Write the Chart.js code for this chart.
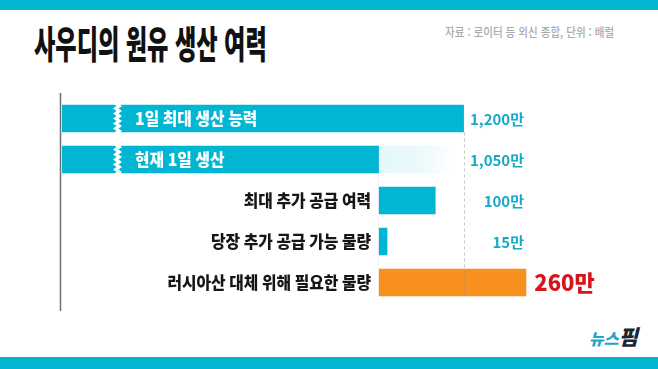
<!DOCTYPE html>
<html lang="ko">
<head>
<meta charset="utf-8">
<script src="https://cdn.jsdelivr.net/npm/chart.js@4"></script>
<style>
  html,body{margin:0;padding:0;background:#fff;}
  #wrap{position:relative;width:658px;height:369px;overflow:hidden;background:#fff;}
  #c{position:absolute;left:0;top:0;}
  .stripe{position:absolute;left:0;width:658px;background:#00b6d3;}
  .t{position:absolute;white-space:nowrap;font-family:"Noto Sans CJK KR","Noto Sans",sans-serif;transform-origin:left top;}
</style>
</head>
<body>
<div id="wrap">
  <div class="stripe" style="top:0;height:10px;"></div>
  <div class="stripe" style="top:357px;height:12px;"></div>
  <div class="t" id="title" style="left:34px;top:19px;font-size:38px;font-weight:900;color:#111;transform:scaleX(0.61);line-height:1.2;">사우디의 원유 생산 여력</div>
  <div class="t" id="src" style="left:445px;top:24px;font-size:12px;font-weight:500;color:#aaaaaa;transform:scaleX(0.88);line-height:1.4;">자료 : 로이터 등 외신 종합, 단위 : 배럴</div>
  <div class="t" id="logo" style="left:589px;top:324px;font-weight:900;font-style:italic;line-height:1.2;"><span style="color:#1aa6c8;font-size:16px;">뉴스</span><span style="color:#1a2535;font-size:21px;">핌</span></div>
  <canvas id="c" width="658" height="369"></canvas>
</div>
<script>
// ---- data ----
const categories = ['1일 최대 생산 능력', '현재 1일 생산', '최대 추가 공급 여력', '당장 추가 공급 가능 물량', '러시아산 대체 위해 필요한 물량'];
const values = [1200, 1050, 100, 15, 260];          // 단위: 만 배럴
const unit = '만';
const brokenBars = [true, true, false, false, false]; // bars drawn with a broken axis
const breakBase = 1050;                              // broken bars are shown relative to this value
const highlightIndex = 4;

// ---- colours ----
const CYAN = '#00b6d3';
const ORANGE = '#f8901f';

const axisMin = -559, axisMax = 390;

const mainData = values.map((v, i) => brokenBars[i] ? [axisMin, v - breakBase] : [0, v]);
const gapData = values.map((v, i) => i === 1 ? [0, values[0] - values[1]] : null);
const fmt = v => v.toLocaleString('en-US') + unit;

function drawScaledText(ctx, text, x, y, sx, align, font, color) {
  ctx.save();
  ctx.font = font;
  ctx.fillStyle = color;
  ctx.textAlign = align;
  ctx.textBaseline = 'middle';
  ctx.translate(x, y);
  ctx.scale(sx, 1);
  ctx.fillText(text, 0, 0);
  ctx.restore();
}

const deco = {
  id: 'deco',
  beforeDatasetsDraw(chart) {
    const { ctx, scales: { x, y } } = chart;
    ctx.save();
    ctx.strokeStyle = '#6e6e6e';
    ctx.lineWidth = 1.5;
    ctx.beginPath();
    ctx.moveTo(x.left - 1.5, 93);
    ctx.lineTo(x.left - 1.5, 311);
    ctx.stroke();
    const x0 = Math.round(x.getPixelForValue(0)) - 0.5;
    ctx.strokeStyle = 'rgba(200,200,200,0.5)';
    ctx.lineWidth = 1;
    ctx.setLineDash([2, 2]);
    ctx.beginPath();
    ctx.moveTo(x0, y.getPixelForValue(1));
    ctx.lineTo(x0, y.getPixelForValue(4) + 14);
    ctx.stroke();
    ctx.restore();
  },
  afterDatasetsDraw(chart) {
    const { ctx, scales: { x, y } } = chart;
    const half = 14;
    brokenBars.forEach((b, i) => {
      if (!b) return;
      const yc = y.getPixelForValue(i);
      const top = yc - half - 1, bot = yc + half + 1;
      const n = 12, step = (bot - top) / n;
      ctx.save();
      ctx.fillStyle = '#fff';
      ctx.beginPath();
      for (let k = 0; k <= n; k++) {
        const px = (k % 2 ? 116.5 : 113);
        const py = top + k * step;
        if (k === 0) ctx.moveTo(px, py); else ctx.lineTo(px, py);
      }
      for (let k = n; k >= 0; k--) {
        ctx.lineTo(k % 2 ? 122 : 118.5, top + k * step);
      }
      ctx.closePath();
      ctx.fill();
      ctx.restore();
    });
    const xc = Math.round(x.getPixelForValue(values[0] - breakBase)) + 0.5;
    ctx.save();
    ctx.strokeStyle = 'rgba(140,140,140,0.5)';
    ctx.lineWidth = 1;
    ctx.setLineDash([3, 3]);
    ctx.beginPath();
    ctx.moveTo(xc, y.getPixelForValue(0) + half);
    ctx.lineTo(xc, y.getPixelForValue(4) + half);
    ctx.stroke();
    ctx.restore();

    const catFont = '800 17px "Noto Sans CJK KR", sans-serif';
    categories.forEach((c, i) => {
      const yc = y.getPixelForValue(i) + 0.5;
      if (brokenBars[i]) {
        drawScaledText(ctx, c, 135, yc, 0.93, 'left', catFont, '#ffffff');
      } else {
        drawScaledText(ctx, c, 371, yc, 0.93, 'right', catFont, '#161616');
      }
    });
    values.forEach((v, i) => {
      const yc = y.getPixelForValue(i) + 0.5;
      if (i === highlightIndex) {
        const xe = x.getPixelForValue(v) + 8;
        drawScaledText(ctx, fmt(v), xe, yc, 1, 'left', '800 22px "Noto Sans CJK KR", sans-serif', '#d4161c');
      } else {
        drawScaledText(ctx, fmt(v), 524, yc, 1, 'right', '700 15px "Noto Sans CJK KR", sans-serif', '#17a9c9');
      }
    });
  }
};

new Chart(document.getElementById('c'), {
  type: 'bar',
  data: {
    labels: categories,
    datasets: [
      {
        data: mainData,
        backgroundColor: values.map((v, i) => i === highlightIndex ? ORANGE : CYAN),
        borderWidth: 0,
        barPercentage: 0.67,
        categoryPercentage: 1,
        grouped: false,
        order: 1
      },
      {
        data: gapData,
        backgroundColor: (c) => {
          const ch = c.chart;
          if (!ch.chartArea) return 'rgba(0,182,211,0.08)';
          const xs = ch.scales.x;
          const a = xs.getPixelForValue(0), b = xs.getPixelForValue(values[0] - values[1]);
          const g = ch.ctx.createLinearGradient(a, 0, b, 0);
          g.addColorStop(0, 'rgba(0,182,211,0.10)');
          g.addColorStop(0.5, 'rgba(0,182,211,0.08)');
          g.addColorStop(0.88, 'rgba(0,182,211,0)');
          g.addColorStop(1, 'rgba(0,182,211,0)');
          return g;
        },
        borderWidth: 0,
        barPercentage: 0.67,
        categoryPercentage: 1,
        grouped: false,
        order: 2
      }
    ]
  },
  options: {
    indexAxis: 'y',
    responsive: false,
    animation: false,
    layout: { padding: { left: 62, right: 58, top: 98, bottom: 66 } },
    plugins: { legend: { display: false }, tooltip: { enabled: false } },
    scales: {
      x: { type: 'linear', min: axisMin, max: axisMax, display: false },
      y: { display: false }
    }
  },
  plugins: [deco]
});
</script>
</body>
</html>
